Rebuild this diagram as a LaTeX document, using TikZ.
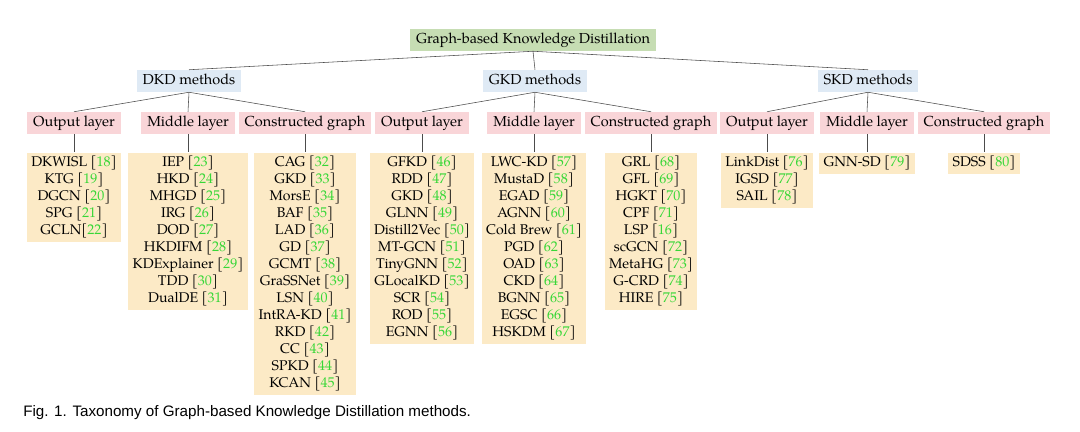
\documentclass[tikz,border=0pt]{standalone}
\usepackage{fontspec}
\setmainfont{TeX Gyre Pagella}
\newfontfamily\capfont{Liberation Sans}
\usetikzlibrary{positioning}
\definecolor{rootgreen}{HTML}{C6DDB3}
\definecolor{methodblue}{HTML}{DFEAF5}
\definecolor{layerpink}{HTML}{F9D5D8}
\definecolor{leafyellow}{HTML}{FCEAC6}
\definecolor{citegreen}{RGB}{55,215,55}
\newcommand{\refn}[1]{[\textcolor{citegreen}{#1}]}

\begin{document}
\begin{tikzpicture}[x=0.025cm,y=-0.025cm,node distance=0.45cm,
  box/.style={inner xsep=4.2pt,inner ysep=3.2pt,text height=7.2pt,text depth=2pt,font=\fontsize{10.3}{12}\selectfont},
  root node/.style={box,fill=rootgreen},
  method node/.style={box,fill=methodblue},
  layer node/.style={box,fill=layerpink},
  leaf node/.style={fill=leafyellow,align=center,inner xsep=3pt,inner ysep=2.5pt,anchor=north,font=\fontsize{10}{12.1}\selectfont},
  tree edge/.style={draw=black!70,line width=0.4pt}]

  \useasboundingbox (0,0) rectangle (1080,432);

  % root and methods
  \node[root node] (root) at (533,40) {Graph-based Knowledge Distillation};
  \node[method node] (dkd) at (189,81) {DKD methods};
  \node[method node] (gkd) at (535,81) {GKD methods};
  \node[method node] (skd) at (868,81) {SKD methods};

  % layers
  \node[layer node] (dkdout) at (74,123) {Output layer};
  \node[layer node] (dkdmid) at (188,123) {Middle layer};
  \node[layer node] (dkdcon) at (305,123) {Constructed graph};
  \node[layer node] (gkdout) at (422,123) {Output layer};
  \node[layer node] (gkdmid) at (534,123) {Middle layer};
  \node[layer node] (gkdcon) at (651,123) {Constructed graph};
  \node[layer node] (skdout) at (767,123) {Output layer};
  \node[layer node] (skdmid) at (867,123) {Middle layer};
  \node[layer node] (skdcon) at (984,123) {Constructed graph};

  % methods lists
  \node[leaf node] (dkdoutlist) [below=of dkdout] {DKWISL \refn{18}\\ KTG \refn{19}\\ DGCN \refn{20}\\ SPG \refn{21}\\ GCLN\refn{22}};
  \node[leaf node] (dkdmidlist) [below=of dkdmid] {IEP \refn{23}\\ HKD \refn{24}\\ MHGD \refn{25}\\ IRG \refn{26}\\ DOD \refn{27}\\ HKDIFM \refn{28}\\ KDExplainer \refn{29}\\ TDD \refn{30}\\ DualDE \refn{31}};
  \node[leaf node] (dkdconlist) [below=of dkdcon] {CAG \refn{32}\\ GKD \refn{33}\\ MorsE \refn{34}\\ BAF \refn{35}\\ LAD \refn{36}\\ GD \refn{37}\\ GCMT \refn{38}\\ GraSSNet \refn{39}\\ LSN \refn{40}\\ IntRA-KD \refn{41}\\ RKD \refn{42}\\ CC \refn{43}\\ SPKD \refn{44}\\ KCAN \refn{45}};
  \node[leaf node] (gkdoutlist) [below=of gkdout] {GFKD \refn{46}\\ RDD \refn{47}\\ GKD \refn{48}\\ GLNN \refn{49}\\ Distill2Vec \refn{50}\\ MT-GCN \refn{51}\\ TinyGNN \refn{52}\\ GLocalKD \refn{53}\\ SCR \refn{54}\\ ROD \refn{55}\\ EGNN \refn{56}};
  \node[leaf node] (gkdmidlist) [below=of gkdmid] {LWC-KD \refn{57}\\ MustaD \refn{58}\\ EGAD \refn{59}\\ AGNN \refn{60}\\ Cold Brew \refn{61}\\ PGD \refn{62}\\ OAD \refn{63}\\ CKD \refn{64}\\ BGNN \refn{65}\\ EGSC \refn{66}\\ HSKDM \refn{67}};
  \node[leaf node] (gkdconlist) [below=of gkdcon] {GRL \refn{68}\\ GFL \refn{69}\\ HGKT \refn{70}\\ CPF \refn{71}\\ LSP \refn{16}\\ scGCN \refn{72}\\ MetaHG \refn{73}\\ G-CRD \refn{74}\\ HIRE \refn{75}};
  \node[leaf node] (skdoutlist) [below=of skdout] {LinkDist \refn{76}\\ IGSD \refn{77}\\ SAIL \refn{78}};
  \node[leaf node] (skdmidlist) [below=of skdmid] {GNN-SD \refn{79}};
  \node[leaf node] (skdconlist) [below=of skdcon] {SDSS \refn{80}};

  \path[tree edge]
       (root.south) edge (dkd.north)
       (root.south) edge (gkd.north)
       (root.south) edge (skd.north);

  \foreach \m in {dkd,gkd,skd} {
    \foreach \l in {out,mid,con} {
      \path[tree edge] (\m.south) edge (\m\l.north)
                       (\m\l.south) edge (\m\l list.north);
    }
  }

  \node[anchor=west,inner sep=0pt,font=\capfont\fontsize{10.8}{13}\selectfont] (caption) at (23,413) {Fig. 1. Taxonomy of Graph-based Knowledge Distillation methods.};
\end{tikzpicture}
\end{document}
